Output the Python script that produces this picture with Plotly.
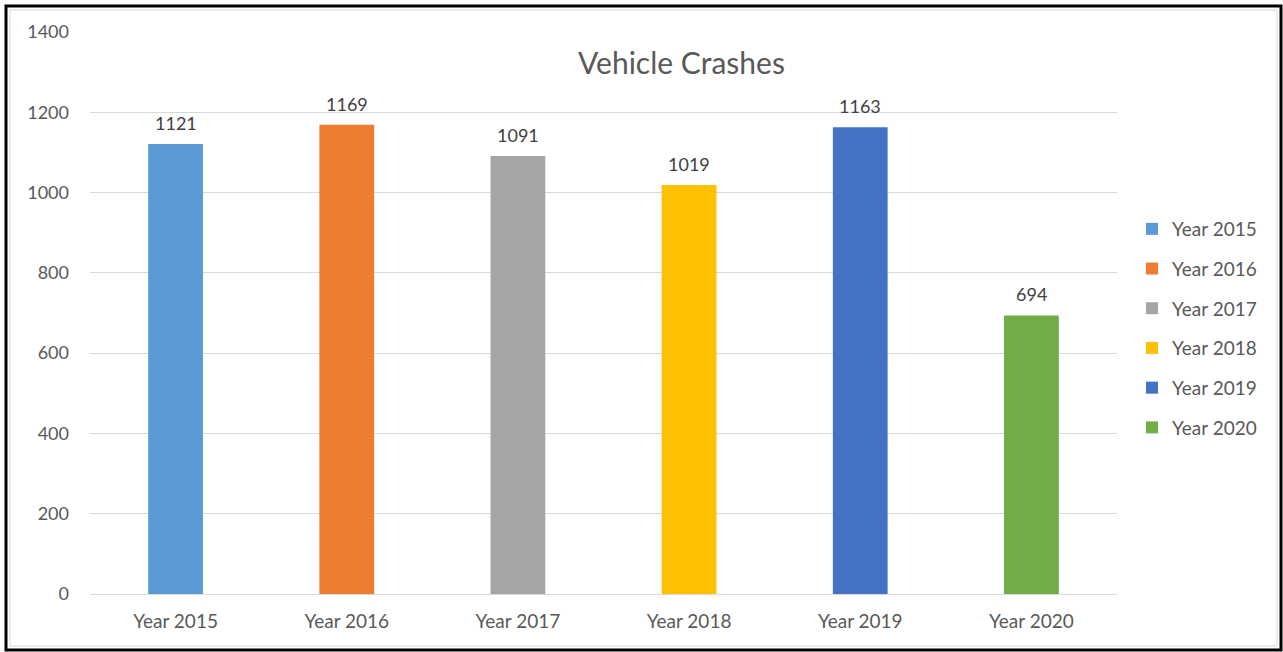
import plotly.graph_objects as go

categories = ["Year 2015", "Year 2016", "Year 2017", "Year 2018", "Year 2019", "Year 2020"]
crashes = [1121, 1169, 1091, 1019, 1163, 694]
colors = ["#5B9BD5", "#ED7D31", "#A5A5A5", "#FFC000", "#4472C4", "#70AD47"]
y_ticks = [0, 200, 400, 600, 800, 1000, 1200, 1400]

W, H = 1283, 652
L, R, T, B = 90, 1117, 32, 594

def px_x(p):
    return (p - L) / (R - L)

def px_y(p):
    return (B - p) / (B - T)

FONT = "Lato, Calibri, Carlito, sans-serif"

fig = go.Figure()
for cat, val, col in zip(categories, crashes, colors):
    fig.add_trace(go.Bar(
        x=[cat], y=[val], name=cat, legendgroup=cat,
        marker=dict(color=col, line=dict(width=0)),
        width=0.32, hoverinfo="x+y",
    ))
    fig.add_annotation(x=cat, y=val, text=str(val), showarrow=False,
                       yanchor="bottom", yshift=8,
                       font=dict(family=FONT, size=18, color="#404040"))

fig.update_layout(
    width=W, height=H,
    margin=dict(l=L, r=W - R, t=T, b=H - B, pad=0),
    paper_bgcolor="white", plot_bgcolor="white",
    barmode="overlay",
    showlegend=True,
    legend=dict(x=px_x(1132), y=px_y(210), xanchor="left", yanchor="top",
                font=dict(family=FONT, size=19, color="#595959"),
                tracegroupgap=12, itemsizing="constant",
                bgcolor="rgba(0,0,0,0)"),
    font=dict(family=FONT, size=18, color="#595959"),
    xaxis=dict(categoryorder="array", categoryarray=categories, showgrid=False,
               showline=True, linecolor="#D9D9D9", linewidth=1,
               ticks="", ticklabelstandoff=10,
               tickfont=dict(family=FONT, size=19, color="#595959"),
               fixedrange=True),
    yaxis=dict(range=[0, 1400], tickvals=y_ticks, showgrid=True, gridcolor="#D9D9D9",
               gridwidth=1, zeroline=True, zerolinecolor="#D9D9D9", zerolinewidth=1,
               showline=False, ticks="", ticklabelstandoff=20,
               tickfont=dict(family=FONT, size=18, color="#595959"),
               fixedrange=True),
    annotations=list(fig.layout.annotations) + [
        dict(text="Vehicle Crashes", x=px_x(681), y=px_y(62), xref="paper", yref="paper",
             showarrow=False, xanchor="center", yanchor="middle",
             font=dict(family=FONT, size=30, color="#595959")),
    ],
    shapes=[
        dict(type="rect", xref="paper", yref="paper",
             x0=px_x(10), x1=px_x(1277), y0=px_y(646), y1=px_y(10),
             line=dict(color="#D9D9D9", width=1), layer="below"),
        dict(type="rect", xref="paper", yref="paper",
             x0=px_x(6), x1=px_x(1281), y0=px_y(650), y1=px_y(6),
             line=dict(color="#000000", width=3), layer="below"),
    ],
)

fig.write_html(
    "out.html",
    config={"displayModeBar": False},
    post_script="document.body.style.margin='0';document.body.style.overflow='hidden';",
)
